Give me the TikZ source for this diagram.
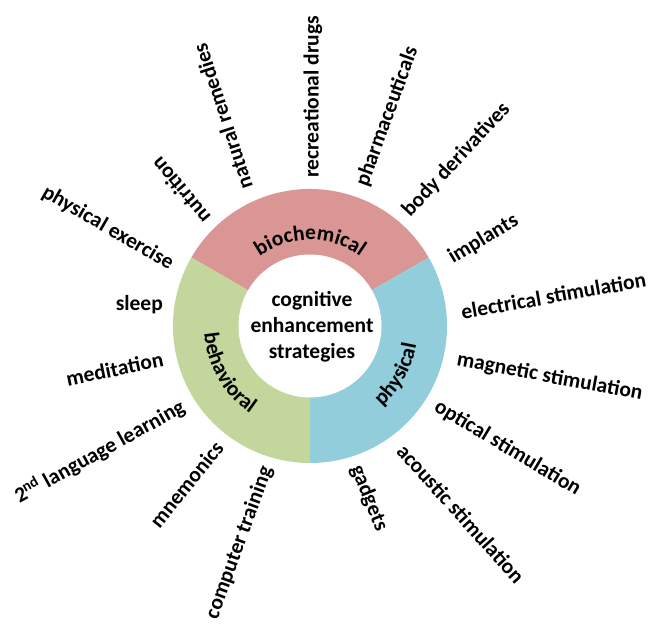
\documentclass[tikz,border=0pt]{standalone}
\usepackage{fontspec}
\setmainfont{Carlito}
\usetikzlibrary{decorations.text}
\definecolor{redc}{HTML}{D99694}
\definecolor{greenc}{HTML}{C3D69B}
\definecolor{bluec}{HTML}{92CDDC}
\newcommand{\lblfont}{\fontsize{21.5}{26}\selectfont\bfseries}
\begin{document}
\begin{tikzpicture}[x=1pt,y=1pt,
  lbl/.style={font=\lblfont, inner sep=0pt, text=black},
  outl/.style={lbl, anchor=west},
  inl/.style={lbl, anchor=east},
  ringtext/.style={decorate, decoration={text along path, text align=center, text={|\lblfont|#1}}}]
\useasboundingbox (0,0) rectangle (653,625);
\coordinate (C) at (310,299);
% ring
\fill[redc]   (C) -- ([shift={(30:137)}]C) arc[start angle=30,end angle=150,radius=137] -- cycle;
\fill[bluec]  (C) -- ([shift={(-90:137)}]C) arc[start angle=-90,end angle=30,radius=137] -- cycle;
\fill[greenc] (C) -- ([shift={(150:137)}]C) arc[start angle=150,end angle=270,radius=137] -- cycle;
\fill[white] (C) circle[radius=71.5];
% ring labels
\path[ringtext=biochemical] ([shift={(150:86)}]C) arc[start angle=150,end angle=30,radius=86];
\path[ringtext=behavioral] ([shift={(150:106)}]C) arc[start angle=150,end angle=270,radius=106];
\path[ringtext=physical] ([shift={(-89:108)}]C) arc[start angle=-89,end angle=31,radius=108];
% centre
\node[lbl, align=center] (centre) at (312,298) {cognitive\\enhancement\\strategies};
% outward labels
\node[outl, rotate=90]    (recdrugs) at (313,447) {recreational drugs};
\node[outl, rotate=108]   (natrem)   at (246,436) {natural remedies};
\node[outl, rotate=130]   (nutr)     at (206,404) {nutrition};
\node[outl, rotate=70]    (pharma)   at (362,439) {pharmaceuticals};
\node[outl, rotate=47]    (bodyder)  at (406,411) {body derivatives};
\node[outl, rotate=31]    (impl)     at (450,366) {implants};
\node[outl, rotate=10]    (elstim)   at (461,313) {electrical stimulation};
\node[outl, rotate=-10.5] (magstim)  at (457,265) {magnetic stimulation};
\node[outl, rotate=-31]   (optstim)  at (436,220) {optical stimulation};
\node[outl, rotate=-48]   (acstim)   at (401,178) {acoustic stimulation};
\node[outl, rotate=-68]   (gadg)     at (356,159) {gadgets};
% inward labels
\node[inl, rotate=70]   (comptr)  at (267,158) {computer training};
\node[inl, rotate=51]   (mnem)    at (219,181) {mnemonics};
\node[inl, rotate=29]   (lang)    at (183,220) {2\textsuperscript{nd} language learning};
\node[inl, rotate=11.5] (medit)   at (163,266) {meditation};
\node[inl, rotate=0]    (sleep)   at (163,320) {sleep};
\node[inl, rotate=-30]  (physex)  at (172,360) {physical exercise};
\end{tikzpicture}
\end{document}
